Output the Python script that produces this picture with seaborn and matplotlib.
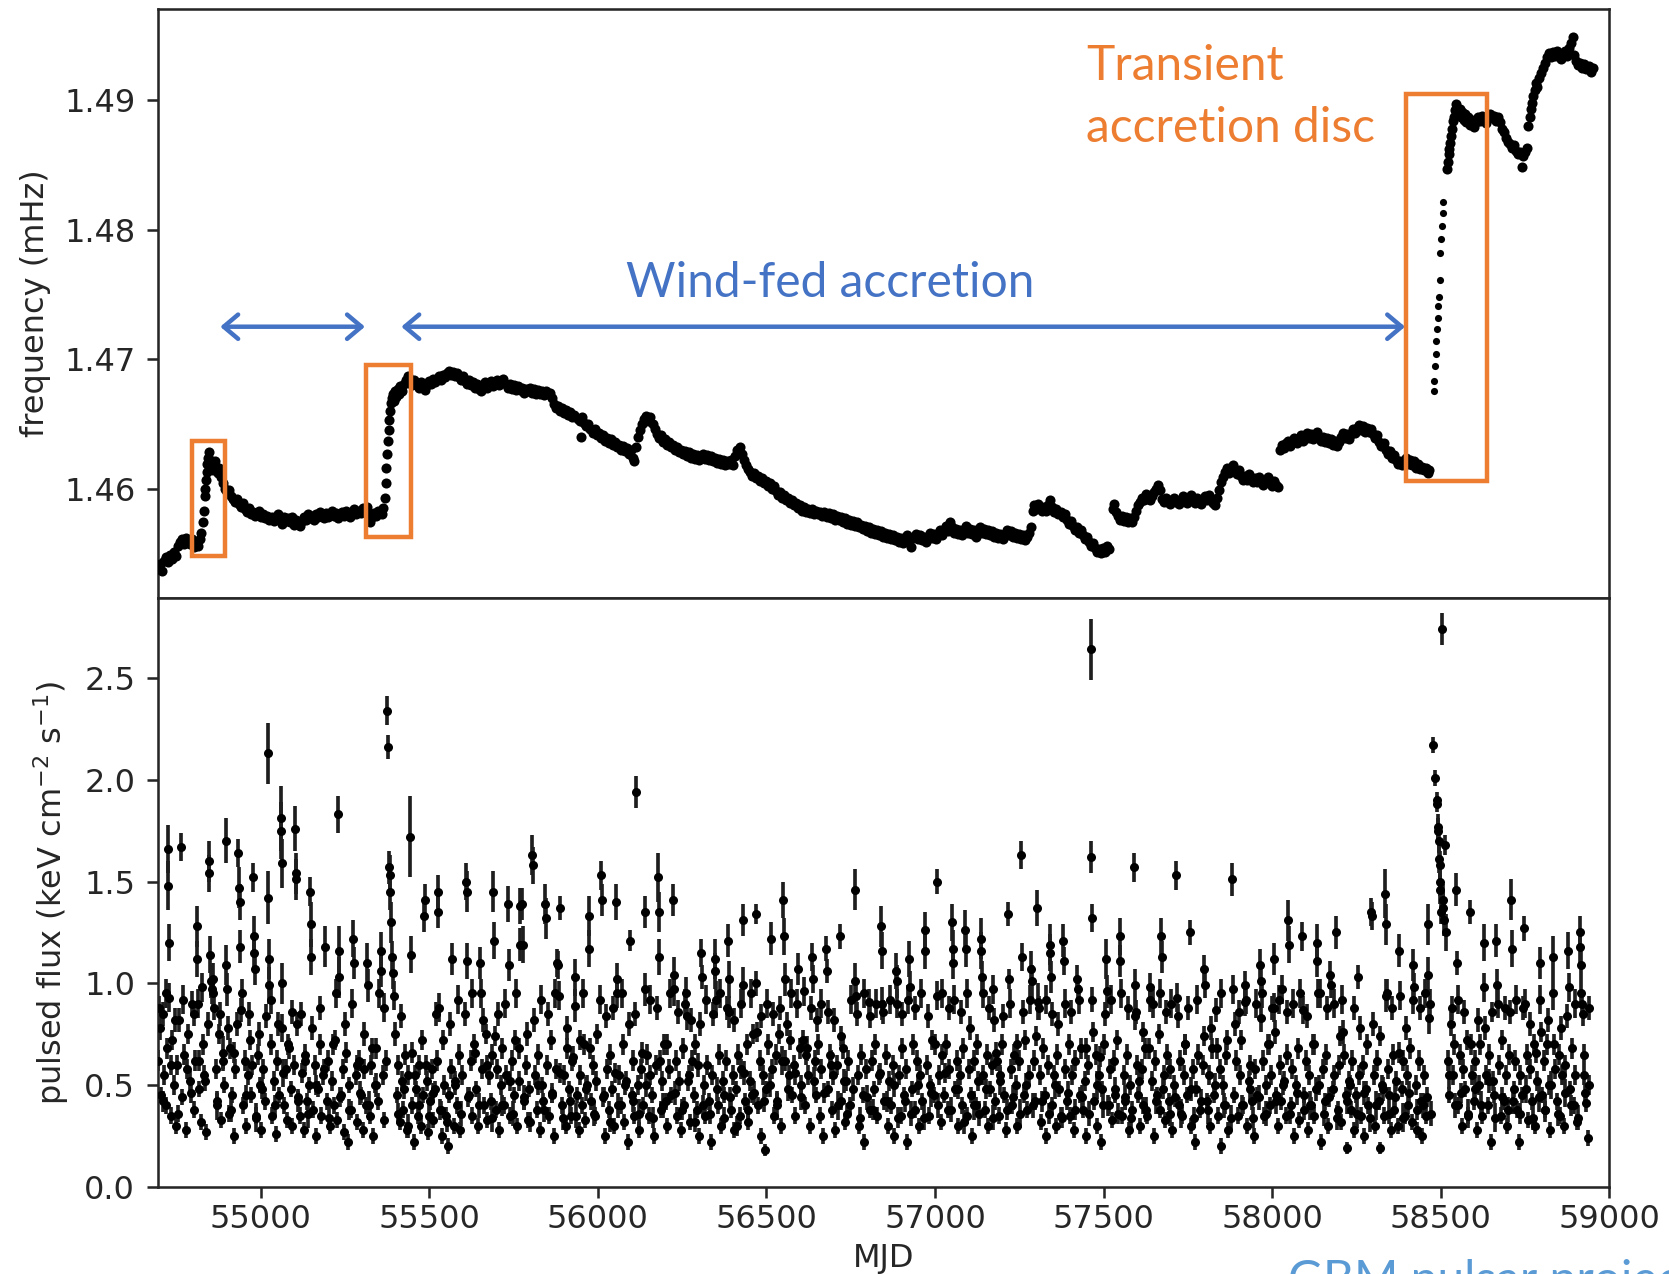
import matplotlib
matplotlib.use("Agg")
import matplotlib.pyplot as plt
from matplotlib.patches import Rectangle
from matplotlib.ticker import StrMethodFormatter
import numpy as np
import pandas as pd
import seaborn as sns

# ---------------- spin frequency (top panel) ----------------
FREQ_MJD = [
    [54694,54700,54706,54712,54718,54724,54730,54736,54742,54748,54754,54760,54766,54772,54778,54784,54790,54796,54802,54808,54814,54820],
    [54824,54828,54831,54834,54836,54838,54840,54842,54845,54848,54851,54854,54857,54860,54864,54868,54872,54876,54882,54888,54894,54900],
    [54906,54912,54918,54924,54930,54936,54942,54948,54954,54960,54966,54972,54978,54984,54990,54996,55002,55008,55014,55020,55026,55032],
    [55038,55044,55050,55056,55062,55068,55074,55080,55086,55092,55098,55104,55110,55116,55122,55128,55134,55140,55146,55152,55158,55164],
    [55170,55176,55182,55188,55194,55200,55206,55212,55218,55224,55230,55236,55242,55248,55254,55260,55266,55272,55278,55284,55290,55296],
    [55302,55308,55314,55320,55324,55330,55336,55342,55348,55354,55360,55364,55368,55371,55373,55375,55377,55379,55381,55383,55386,55389,55392],
    [55395,55398,55402,55406,55410,55414,55420,55426,55432,55438,55444,55450,55456,55462,55468,55474,55480,55486,55492,55498,55504,55510,55516,55522],
    [55528,55534,55540,55546,55552,55558,55564,55570,55576,55582,55588,55594,55600,55606,55612,55618,55624,55630,55636,55642,55648,55654],
    [55660,55666,55672,55678,55684,55690,55696,55702,55708,55714,55720,55726,55732,55738,55744,55750,55756,55762,55768,55774,55780,55786],
    [55792,55798,55804,55810,55816,55822,55828,55834,55840,55846,55852,55858,55864,55870,55876,55882,55888,55894,55900,55906,55912,55918],
    [55924,55930,55942,55948,55950,55954,55960,55966,55972,55978,55984,55990,55996,56002,56008,56014,56020,56026,56032,56038,56044,56050],
    [56056,56062,56068,56074,56080,56086,56092,56098,56104,56108,56114,56120,56126,56132,56138,56144,56150,56156,56162,56168],
    [56174,56180,56186,56192,56198,56204,56210,56216,56222,56228,56234,56240,56246,56252,56258,56264,56270,56276,56282,56288,56294,56300],
    [56306,56312,56318,56324,56330,56336,56342,56348,56354,56360,56366,56372,56378,56384,56390,56396,56402,56408,56414,56420,56426,56432],
    [56438,56444,56450,56456,56462,56468,56474,56480,56486,56492,56498,56504,56510,56516,56522,56528,56534,56540,56546,56552,56558,56564],
    [56570,56576,56582,56588,56594,56600,56606,56612,56618,56624,56630,56636,56642,56648,56654,56660,56666,56672,56678,56684,56690,56696],
    [56702,56708,56714,56720,56726,56732,56738,56744,56750,56756,56762,56768,56774,56780,56786,56792,56798,56804,56810,56816,56822,56828],
    [56834,56840,56846,56852,56858,56864,56870,56876,56882,56888,56894,56900,56906,56912,56918,56924,56930,56936,56942,56948,56954,56960],
    [56966,56972,56978,56984,56990,56996,57002,57008,57014,57020,57026,57032,57038,57044,57050,57056,57062,57068,57074,57080,57086,57092],
    [57098,57104,57110,57116,57122,57128,57134,57140,57146,57152,57158,57164,57170,57176,57182,57188,57194,57200,57206,57212,57218,57224],
    [57230,57236,57242,57248,57254,57260,57266,57272,57278,57284,57290,57294,57300,57306,57312,57318,57324,57330,57336,57342,57348,57354],
    [57360,57366,57372,57378,57384,57390,57396,57402,57408,57414,57420,57426,57432,57438,57444,57450,57456,57462,57468,57474,57480,57486],
    [57492,57498,57504,57510,57516,57528,57532,57536,57542,57548,57554,57560,57566,57572,57578,57584,57590,57596,57602,57608,57614,57620],
    [57626,57632,57638,57644,57650,57656,57662,57668,57674,57680,57686,57692,57698,57704,57710,57716,57722,57728,57734,57740,57746,57752],
    [57758,57764,57770,57776,57782,57788,57794,57800,57806,57812,57818,57824,57830,57836,57842,57848,57854,57860,57866,57872,57878,57884],
    [57890,57896,57902,57908,57914,57920,57926,57932,57938,57944,57950,57956,57962,57968,57974,57980,57986,57992,57998,58004,58010,58016],
    [58024,58030,58036,58042,58048,58054,58060,58066,58072,58078,58084,58090,58096,58102,58108,58114,58120,58126,58132,58138,58144,58150],
    [58156,58162,58168,58174,58180,58186,58192,58198,58204,58210,58216,58222,58228,58234,58240,58246,58252,58258,58264,58270,58276,58282],
    [58288,58294,58300,58306,58312,58318,58324,58330,58336,58342,58348,58354,58360,58366,58372,58378,58384,58390,58396,58402,58408,58414],
    [58420,58426,58432,58438,58444,58450,58456,58462,58466],
    [58479,58481,58483,58485,58487,58489,58491,58493,58495,58497,58499,58501,58503,58505,58507],
    [58519,58521,58523,58525,58527,58530,58533,58536,58539,58542,58545,58548,58552,58556,58560,58564,58568,58572,58576,58580,58586,58592,58598,58604,58610,58616,58622,58628,58634,58640,58646,58652],
    [58658,58664,58670,58676,58682,58688,58694,58700,58706,58712,58718,58724,58730,58736,58740,58744,58750,58756,58760,58763,58766,58770,58774,58778,58782,58786],
    [58790,58796,58802,58808,58814,58820,58826,58832,58838,58844,58850,58856,58862,58868,58874,58880,58886,58891,58896,58902,58908,58914,58920,58926,58932,58938,58944,58950],
]
FREQ_MHZ = [
    [1.4538,1.4542,1.4536,1.4544,1.4547,1.4543,1.4549,1.4546,1.4551,1.4548,1.4556,1.4559,1.4561,1.4557,1.4562,1.4560,1.4557,1.4561,1.4555,1.4558,1.4556,1.4561],
    [1.4566,1.4574,1.4583,1.4594,1.4600,1.4607,1.4613,1.4619,1.4624,1.4628,1.4622,1.4618,1.4614,1.4619,1.4621,1.4615,1.4612,1.4616,1.4609,1.4604,1.4600,1.4597],
    [1.4599,1.4594,1.4592,1.4590,1.4592,1.4588,1.4586,1.4589,1.4584,1.4582,1.4585,1.4580,1.4582,1.4579,1.4581,1.4583,1.4578,1.4580,1.4577,1.4579,1.4576,1.4578],
    [1.4575,1.4577,1.4580,1.4576,1.4573,1.4578,1.4575,1.4577,1.4574,1.4578,1.4572,1.4576,1.4574,1.4571,1.4575,1.4578,1.4576,1.4580,1.4577,1.4579,1.4576,1.4580],
    [1.4578,1.4582,1.4579,1.4577,1.4581,1.4578,1.4580,1.4583,1.4579,1.4581,1.4577,1.4580,1.4582,1.4579,1.4583,1.4580,1.4578,1.4582,1.4584,1.4580,1.4583,1.4581],
    [1.4585,1.4582,1.4586,1.4576,1.4574,1.4578,1.4581,1.4579,1.4583,1.4581,1.4580,1.4585,1.4593,1.4604,1.4616,1.4627,1.4637,1.4645,1.4653,1.4660,1.4666,1.4670,1.4673],
    [1.4668,1.4675,1.4671,1.4677,1.4673,1.4679,1.4675,1.4681,1.4684,1.4687,1.4683,1.4680,1.4684,1.4681,1.4678,1.4682,1.4679,1.4676,1.4680,1.4683,1.4681,1.4685,1.4682,1.4684],
    [1.4687,1.4684,1.4688,1.4686,1.4689,1.4691,1.4688,1.4690,1.4687,1.4689,1.4686,1.4684,1.4687,1.4683,1.4681,1.4684,1.4680,1.4682,1.4678,1.4681,1.4677,1.4675],
    [1.4679,1.4682,1.4678,1.4680,1.4683,1.4679,1.4681,1.4684,1.4680,1.4682,1.4685,1.4681,1.4678,1.4681,1.4677,1.4680,1.4676,1.4679,1.4676,1.4678,1.4674,1.4677],
    [1.4675,1.4678,1.4674,1.4677,1.4673,1.4676,1.4673,1.4675,1.4672,1.4675,1.4673,1.4674,1.4670,1.4665,1.4662,1.4664,1.4660,1.4662,1.4658,1.4661,1.4657,1.4659],
    [1.4655,1.4657,1.4654,1.4652,1.4640,1.4655,1.4651,1.4648,1.4650,1.4646,1.4643,1.4646,1.4641,1.4643,1.4639,1.4641,1.4637,1.4639,1.4635,1.4638,1.4634,1.4636],
    [1.4632,1.4634,1.4630,1.4633,1.4629,1.4631,1.4627,1.4630,1.4624,1.4621,1.4632,1.4640,1.4645,1.4650,1.4654,1.4656,1.4652,1.4655,1.4650,1.4646],
    [1.4642,1.4639,1.4641,1.4636,1.4638,1.4634,1.4636,1.4632,1.4634,1.4630,1.4632,1.4628,1.4630,1.4627,1.4629,1.4625,1.4628,1.4624,1.4627,1.4623,1.4626,1.4622],
    [1.4625,1.4627,1.4623,1.4626,1.4622,1.4625,1.4621,1.4624,1.4620,1.4623,1.4619,1.4622,1.4618,1.4621,1.4619,1.4622,1.4618,1.4625,1.4630,1.4632,1.4627,1.4622],
    [1.4618,1.4615,1.4613,1.4610,1.4612,1.4608,1.4610,1.4606,1.4608,1.4604,1.4606,1.4602,1.4604,1.4600,1.4602,1.4598,1.4595,1.4597,1.4593,1.4595,1.4591,1.4593],
    [1.4589,1.4591,1.4587,1.4589,1.4585,1.4587,1.4583,1.4586,1.4582,1.4584,1.4581,1.4584,1.4580,1.4583,1.4580,1.4582,1.4579,1.4582,1.4578,1.4581,1.4577,1.4580],
    [1.4576,1.4579,1.4576,1.4578,1.4574,1.4577,1.4573,1.4576,1.4572,1.4575,1.4571,1.4574,1.4570,1.4572,1.4569,1.4571,1.4567,1.4570,1.4566,1.4569,1.4565,1.4568],
    [1.4564,1.4567,1.4563,1.4566,1.4562,1.4565,1.4561,1.4564,1.4560,1.4563,1.4559,1.4562,1.4558,1.4561,1.4564,1.4560,1.4555,1.4562,1.4565,1.4561,1.4564,1.4560],
    [1.4563,1.4559,1.4562,1.4566,1.4562,1.4565,1.4561,1.4564,1.4568,1.4564,1.4567,1.4571,1.4567,1.4574,1.4570,1.4566,1.4569,1.4565,1.4568,1.4564,1.4567,1.4571],
    [1.4566,1.4569,1.4565,1.4568,1.4563,1.4566,1.4570,1.4566,1.4569,1.4565,1.4568,1.4564,1.4567,1.4563,1.4566,1.4562,1.4565,1.4561,1.4564,1.4568,1.4564,1.4567],
    [1.4563,1.4566,1.4562,1.4565,1.4561,1.4564,1.4560,1.4563,1.4566,1.4570,1.4583,1.4587,1.4584,1.4588,1.4585,1.4583,1.4586,1.4583,1.4587,1.4591,1.4586,1.4582],
    [1.4584,1.4580,1.4582,1.4578,1.4580,1.4576,1.4573,1.4575,1.4571,1.4568,1.4570,1.4566,1.4568,1.4564,1.4561,1.4563,1.4559,1.4556,1.4558,1.4554,1.4551,1.4553],
    [1.4550,1.4554,1.4551,1.4556,1.4553,1.4584,1.4588,1.4582,1.4579,1.4576,1.4579,1.4575,1.4578,1.4574,1.4577,1.4574,1.4578,1.4583,1.4587,1.4590,1.4593,1.4591],
    [1.4596,1.4594,1.4591,1.4594,1.4597,1.4600,1.4603,1.4599,1.4592,1.4590,1.4593,1.4590,1.4588,1.4591,1.4593,1.4590,1.4588,1.4591,1.4594,1.4591,1.4589,1.4592],
    [1.4595,1.4592,1.4589,1.4593,1.4590,1.4588,1.4591,1.4594,1.4591,1.4595,1.4592,1.4589,1.4587,1.4593,1.4599,1.4605,1.4609,1.4613,1.4616,1.4612,1.4615,1.4618],
    [1.4614,1.4611,1.4614,1.4610,1.4607,1.4610,1.4607,1.4611,1.4608,1.4605,1.4608,1.4605,1.4609,1.4606,1.4603,1.4606,1.4609,1.4605,1.4602,1.4606,1.4603,1.4601],
    [1.4630,1.4634,1.4631,1.4635,1.4637,1.4633,1.4636,1.4639,1.4635,1.4638,1.4641,1.4637,1.4640,1.4643,1.4639,1.4642,1.4638,1.4641,1.4644,1.4640,1.4637,1.4640],
    [1.4636,1.4639,1.4635,1.4638,1.4634,1.4637,1.4633,1.4636,1.4640,1.4643,1.4639,1.4642,1.4638,1.4642,1.4646,1.4643,1.4647,1.4649,1.4645,1.4648,1.4644,1.4647],
    [1.4644,1.4646,1.4642,1.4639,1.4641,1.4636,1.4633,1.4635,1.4630,1.4627,1.4629,1.4624,1.4626,1.4622,1.4619,1.4621,1.4618,1.4621,1.4624,1.4619,1.4622,1.4618],
    [1.4621,1.4616,1.4619,1.4615,1.4617,1.4614,1.4616,1.4612,1.4614],
    [1.4675,1.4683,1.4695,1.4704,1.4714,1.4723,1.4732,1.4741,1.4748,1.4761,1.4782,1.4793,1.4803,1.4813,1.4821],
    [1.4847,1.4852,1.4858,1.4862,1.4867,1.4872,1.4878,1.4884,1.4887,1.4892,1.4897,1.4893,1.4889,1.4893,1.4887,1.4891,1.4885,1.4889,1.4883,1.4887,1.4881,1.4885,1.4879,1.4883,1.4887,1.4884,1.4888,1.4885,1.4882,1.4886,1.4889,1.4886],
    [1.4888,1.4884,1.4887,1.4883,1.4878,1.4875,1.4871,1.4868,1.4866,1.4863,1.4865,1.4861,1.4858,1.4860,1.4848,1.4857,1.4860,1.4863,1.4880,1.4887,1.4893,1.4898,1.4903,1.4908,1.4913,1.4910],
    [1.4917,1.4921,1.4925,1.4929,1.4933,1.4936,1.4933,1.4937,1.4934,1.4938,1.4935,1.4932,1.4936,1.4938,1.4934,1.4940,1.4944,1.4949,1.4935,1.4930,1.4927,1.4929,1.4925,1.4928,1.4924,1.4926,1.4922,1.4925],
]
SPARSE_FREQ_SEGMENT = 30   # the well separated dots of the 2019 spin-up

# ---------------- pulsed flux (bottom panel) ----------------
FLUX_MJD = [
    [54695,54700,54704,54709,54713,54718,54722,54724,54726,54727,54729,54733,54738,54743,54748,54753,54758,54764,54766,54772,54778,54784,54790,54796,54801,54806,54811,54812,54813,54818,54823,54828,54833,54838,54843],
    [54846,54848,54851,54853,54855,54858,54862,54866,54871,54876,54881,54887,54892,54896,54898,54900,54905,54910,54915,54920,54925,54930,54934,54936,54938,54940,54942,54947,54952,54957,54962,54967,54972,54977,54979,54980,54982,54987,54992,54997],
    [55002,55008,55014,55021,55022,55024,55025,55029,55034,55039,55044,55049,55054,55059,55060,55062,55063,55064,55069,55074,55079,55084,55089,55094,55099,55103,55104,55106,55107,55112,55117,55122,55127,55132,55137,55142,55147,55148,55150,55155,55160,55165,55170,55175,55180,55185,55191,55196],
    [55201,55206,55211,55216,55221,55226,55230,55231,55233,55238,55243,55248,55253,55258,55263,55268,55275,55277,55282,55287,55292,55297,55302,55307,55312,55316,55318,55323,55328,55333,55338,55343,55348,55356,55358,55362,55367,55371,55375,55377,55380,55382,55384,55387,55390,55394,55398],
    [55403,55408,55413,55418,55423,55428,55433,55438,55444,55445,55450,55455,55460,55465,55470,55475,55480,55485,55487,55492,55497,55502,55507,55512,55517,55522,55525,55527,55529,55534,55539,55544,55549,55554,55559,55564,55566,55572,55577,55582,55587,55592,55597],
    [55609,55611,55613,55618,55623,55628,55633,55638,55643,55650,55652,55657,55662,55667,55672,55677,55682,55687,55690,55692,55697,55702,55707,55712,55717,55722,55727,55733,55735,55740,55745,55750,55755,55760,55765,55769,55770,55775,55777,55782,55787,55792,55797],
    [55806,55808,55813,55818,55823,55828,55833,55838,55843,55845,55850,55855,55860,55865,55870,55875,55879,55881,55884,55889,55894,55899,55904,55909,55914,55919,55924,55931,55933,55938,55943,55948,55953,55958,55963,55968,55973,55975,55980,55985,55990,55995],
    [56010,56012,56017,56022,56027,56032,56037,56042,56047,56055,56057,56058,56063,56068,56073,56078,56083,56088,56095,56100,56105,56108,56113,56118,56123,56128,56133,56139,56141,56146,56151,56156,56161,56166,56171,56178,56180,56181,56186,56191,56196],
    [56201,56206,56211,56216,56223,56225,56226,56231,56236,56241,56246,56251,56256,56262,56264,56269,56274,56279,56284,56289,56294,56299,56307,56309,56314,56319,56324,56329,56334,56339,56346,56348,56350,56355,56360,56365,56370,56375,56380,56386,56388,56390,56395],
    [56400,56405,56410,56415,56420,56425,56429,56431,56436,56441,56446,56451,56456,56461,56468,56470,56475,56480,56485,56490,56495,56500,56505,56512,56517,56522,56527,56532,56537,56542,56549,56551,56556,56561,56566,56571,56576,56581,56586,56594,56598],
    [56603,56608,56613,56618,56623,56628,56636,56638,56643,56648,56653,56658,56663,56668,56676,56678,56683,56688,56693,56698,56703,56708,56717,56722,56727,56732,56737,56742,56747,56762,56764,56765,56770,56775,56780,56785,56790,56795],
    [56803,56808,56813,56818,56823,56828,56833,56841,56843,56844,56849,56854,56859,56864,56869,56874,56879,56885,56887,56888,56893,56898,56903,56908,56913,56918,56924,56926,56931,56936,56941,56946,56951,56956,56961,56969,56971,56976,56981,56986,56991,56996],
    [57005,57007,57012,57017,57022,57027,57032,57037,57042,57051,57053,57054,57059,57064,57069,57074,57079,57084,57089,57091,57096,57101,57106,57111,57116,57121,57126,57135,57137,57138,57143,57148,57153,57158,57163,57168,57172,57174,57179,57184,57189,57194],
    [57199,57204,57209,57217,57219,57224,57229,57234,57239,57244,57249,57256,57258,57263,57268,57273,57278,57285,57287,57292,57297,57303,57305,57310,57315,57320,57325,57330,57335,57340,57342,57343,57348,57353,57358,57363,57368,57373,57379,57381,57386,57391,57396],
    [57401,57406,57411,57416,57422,57424,57429,57434,57439,57444,57449,57454,57462,57463,57465,57466,57471,57476,57481,57486,57491,57496,57501,57508,57510,57515,57520,57525,57530,57535,57540,57547,57549,57554,57559,57564,57569,57574,57579,57584,57590,57592,57593,57598],
    [57603,57608,57613,57618,57623,57628,57636,57638,57643,57648,57653,57658,57663,57668,57671,57673,57678,57683,57688,57693,57698,57703,57708,57715,57717,57722,57727,57732,57737,57742,57747,57755,57760,57765,57770,57775,57780,57785,57795],
    [57799,57801,57806,57811,57816,57821,57826,57834,57839,57844,57849,57854,57859,57864,57869,57881,57883,57888,57893,57898,57903,57908,57913,57918,57920,57925,57930,57935,57940,57945,57950,57955,57964,57966,57967,57972,57977,57982,57987,57992,57997],
    [58004,58006,58007,58012,58017,58022,58027,58030,58035,58040,58045,58048,58050,58055,58060,58065,58070,58075,58080,58088,58090,58095,58100,58105,58110,58115,58120,58125,58132,58134,58135,58140,58145,58150,58155,58160,58165,58172,58174,58179,58184,58189,58194],
    [58199,58204,58211,58213,58218,58223,58228,58233,58238,58243,58248,58253,58258,58263,58268,58273,58278,58283,58294,58296,58301,58306,58311,58316,58321,58326,58331,58334,58336,58337,58342,58347,58352,58357,58362,58367,58372,58377,58379,58384,58389,58394],
    [58399,58404,58409,58414,58418,58420,58425,58430,58435,58440,58445,58450,58455,58461,58463,58465,58478,58484,58488,58490,58492,58493,58494,58496,58497,58498,58499,58500,58503,58505,58507,58509,58513,58520,58525,58530,58535,58540,58545,58547,58552,58557,58562,58567,58572,58577,58582,58587,58592,58597],
    [58602,58607,58612,58617,58622,58627,58629,58634,58639,58644,58649,58654,58659,58665,58667,58672,58677,58682,58687,58692,58697,58702,58709,58711,58716,58721,58726,58731,58736,58741,58748,58750,58755,58760,58765,58770,58775,58780,58785,58793,58795],
    [58800,58805,58810,58815,58820,58825,58832,58834,58839,58844,58849,58854,58859,58864,58869,58877,58879,58884,58889,58894,58899,58904,58912,58914,58915,58920,58922,58924,58926,58930,58935,58940],
    # interleaved measurements of the dense 0.3-1.0 band
    [54697,54711,54720,54735,54745,54755,54769,54781,54793,54803,54816,54826,54836,54857,54869,54879,54889],
    [54902,54912,54922,54944,54955,54964,54975,54985,54995,55005,55017,55031,55041,55052,55067,55081,55092],
    [55110,55120,55130,55140,55153,55163,55177,55188,55203,55214,55224,55236,55251,55261,55272,55285,55295],
    [55305,55321,55331,55341,55351,55365,55392,55406,55416,55426,55436,55448,55458,55468,55478,55490,55500],
    [55510,55520,55532,55542,55552,55562,55575,55585,55595,55606,55616,55626,55636,55646,55660,55670,55685,55695],
    [55705,55715,55725,55738,55748,55758,55767,55780,55790,55800,55811,55821,55831,55841,55853,55863,55873,55887,55897],
    [55907,55917,55927,55936,55946,55956,55966,55978,55988,55998,56005,56015,56025,56035,56045,56052,56061,56071,56081,56091],
    [56103,56111,56121,56131,56144,56154,56164,56174,56184,56194,56204,56214,56229,56239,56249,56259,56267,56277,56287,56297],
    [56302,56312,56322,56332,56342,56353,56363,56373,56383,56393,56403,56413,56423,56434,56444,56454,56464,56473,56483,56493],
    [56503,56510,56520,56530,56540,56547,56554,56564,56574,56584,56591,56601,56611,56621,56631,56641,56651,56661,56671,56681,56691],
    [56701,56711,56720,56730,56740,56750,56756,56768,56778,56788,56798,56806,56816,56826,56836,56847,56857,56867,56877,56891],
    [56901,56911,56921,56929,56939,56949,56959,56966,56979,56989,56999,57010,57020,57030,57040,57047,57057,57067,57077,57087,57094],
    [57104,57114,57124,57131,57141,57151,57161,57171,57182,57192,57202,57212,57222,57232,57242,57252,57261,57271,57281,57290,57300],
    [57308,57318,57328,57338,57346,57356,57366,57376,57384,57394,57404,57414,57427,57437,57447,57457,57469,57479,57489,57499],
    [57505,57513,57523,57533,57543,57552,57562,57572,57582,57596,57606,57616,57626,57633,57646,57656,57666,57676,57686,57696],
    [57701,57711,57720,57730,57740,57750,57758,57768,57778,57788,57798,57809,57819,57829,57837,57847,57857,57867,57877,57891],
    [57901,57911,57923,57933,57943,57953,57960,57970,57980,57990,58000,58010,58020,58033,58043,58053,58063,58073,58083,58093],
    [58103,58113,58123,58130,58143,58153,58163,58168,58182,58192,58202,58208,58221,58231,58241,58251,58261,58271,58281,58289],
    [58299,58309,58319,58329,58339,58345,58355,58365,58375,58387,58397,58407,58417,58428,58438,58448,58453,58458,58468,58472],
    [58515,58523,58533,58543,58550,58560,58570,58580,58590,58600,58610,58620,58632,58642,58652,58662,58670,58680,58690,58700],
    [58705,58714,58724,58734,58744,58753,58763,58773,58783,58790,58798,58808,58818,58828,58837,58847,58857,58867,58874,58887,58897,58907,58917,58928,58938],
]
FLUX = [
    [.62,.78,.45,.85,.55,.40,.68,1.66,1.48,1.20,.93,.35,.72,.50,.30,.60,.82,1.67,.44,.65,.28,.75,.52,.90,.38,.62,1.28,1.12,.90,.48,.32,.70,.55,.27,.80],
    [1.60,1.54,1.14,1.01,.97,.95,.88,.58,.42,.75,.33,.62,.50,1.70,1.09,.97,.36,.68,.45,.25,.58,.80,1.64,1.47,1.40,1.18,.87,.40,.62,.30,.55,.72,.45,1.52,1.23,1.15,1.07,.35,.65,.50],
    [.28,.58,.42,2.13,1.42,1.12,.99,.70,.35,.52,.26,.62,.45,1.81,1.75,1.59,1.00,.78,.40,.58,.33,.68,.48,.30,.60,1.76,1.54,1.51,.80,.44,.35,.56,.28,.65,.42,.50,1.45,1.29,1.13,.38,.60,.25,.48,.70,.35,.55,1.18,.42],
    [.62,.30,.52,.40,.72,.33,1.83,1.16,1.03,.45,.58,.27,.66,.22,.50,.38,1.22,1.10,.55,.32,.62,.45,.28,.58,.40,1.10,.99,.35,.60,.25,.50,.68,.42,1.16,1.06,.55,.33,.62,2.34,2.16,1.57,1.53,1.45,1.30,1.13,.94,.75],
    [.45,.60,.32,.52,.38,.65,.28,.55,1.72,1.14,.40,.22,.48,.35,.60,.30,.45,1.33,1.41,.52,.27,.42,.58,.33,.48,.62,1.45,1.35,.88,.38,.25,.50,.35,.20,.45,.58,1.12,.30,.52,.40,.65,.28,.55],
    [1.50,1.45,1.11,.45,.62,.35,.70,.48,.30,1.10,.95,.58,.40,.75,.33,.55,.42,.65,1.45,1.21,.38,.58,.28,.50,.68,.40,.55,1.39,1.09,.35,.62,.45,.72,.30,.52,1.38,1.19,1.39,1.19,.42,.60,.33,.48],
    [1.63,1.58,.55,.38,.65,.28,.50,.42,1.39,1.32,.60,.35,.72,.45,.25,.58,1.10,1.09,.94,1.37,.40,.55,.30,.68,.48,.35,.62,1.03,.89,.45,.28,.55,.40,.70,.33,.50,1.33,1.17,.42,.60,.35,.52],
    [1.53,1.41,.45,.25,.58,.38,.65,.48,.30,1.40,1.02,.95,.55,.40,.70,.32,.52,.22,1.21,.45,.62,.35,1.94,.50,.28,.58,.40,1.35,.97,.65,.35,.55,.45,.25,.60,1.52,1.35,1.13,.38,.52,.70],
    [.42,.30,.58,.45,1.41,1.04,.97,.62,.35,.52,.28,.68,.40,.95,.84,.55,.32,.62,.45,.70,.38,.25,1.15,1.03,.50,.35,.60,.42,.22,.55,1.12,1.06,.92,.40,.65,.30,.52,.45,.62,1.21,1.02,.86,.38],
    [.55,.28,.48,.65,.35,.58,1.31,.99,.42,.70,.32,.52,.45,.75,1.34,1.00,.40,.62,.25,.55,.18,.48,.70,1.22,.58,.35,.65,.42,.75,.30,1.41,1.23,.62,.80,.55,.72,.45,.60,.35,1.07,.68],
    [.50,.72,.40,.65,.55,.30,1.13,1.02,.62,.45,.70,.35,.58,.25,1.17,1.06,.48,.65,.38,.55,.28,.60,1.23,.42,.68,.32,.52,.62,.40,1.46,1.01,.94,.55,.30,.65,.45,.22,.58],
    [.91,.38,.62,.48,.70,.35,.55,1.28,1.16,.90,.42,.65,.30,.52,.40,.60,.25,1.06,1.01,.90,.55,.35,.68,.45,.58,.22,1.12,.98,.48,.70,.38,.62,.30,.55,.42,1.26,1.16,.60,.35,.50,.72,.45],
    [1.50,.94,.55,.32,.65,.45,.70,.38,.58,1.30,1.17,1.10,.48,.62,.30,.55,.40,.68,1.26,1.17,.35,.58,.45,.25,.62,.40,.52,1.22,1.16,1.03,.55,.38,.65,.30,.48,.60,.97,.82,.42,.62,.35,.55],
    [.70,.45,.28,1.34,1.02,.58,.40,.65,.50,.30,.62,1.63,1.13,.45,.72,.38,.55,1.07,1.01,.62,.42,1.37,.91,.55,.32,.68,.45,.25,.60,1.19,1.15,1.03,.40,.55,.30,.65,.48,.35,1.21,1.11,.58,.42,.70],
    [.35,.55,.28,.62,1.02,.97,.45,.68,.38,.52,.25,.60,2.64,1.62,1.32,.92,.42,.65,.30,.55,.22,.48,.70,1.12,.96,.40,.58,.33,.62,.45,.72,1.23,1.11,.35,.55,.42,.65,.28,.50,.38,1.57,.99,.84,.60],
    [.45,.30,.58,.40,.68,.35,.98,.92,.52,.25,.62,.45,.75,.38,1.23,1.13,.55,.33,.65,.42,.58,.28,.50,1.53,.93,.40,.62,.35,.55,.70,.45,1.25,.30,.58,.22,.48,.65,.38,.60],
    [1.07,.99,.42,.55,.30,.68,.45,.87,.35,.58,.20,.50,.40,.65,.28,1.51,.97,.45,.62,.35,.55,.72,.40,.99,.91,.30,.52,.60,.42,.25,.58,.45,1.09,1.01,.83,.62,.35,.50,.70,.40,.55],
    [1.12,.88,.76,.45,.30,.60,.42,.97,.52,.35,.65,1.31,1.19,.40,.58,.25,.50,.68,.33,1.23,.87,.45,.62,.28,.55,.40,.70,.35,1.20,1.11,.95,.50,.22,.58,.42,.65,.30,1.04,.99,.48,.55,1.25,.38],
    [.60,.32,.76,.65,.45,.19,.52,.38,.62,.28,.45,1.03,.55,.35,.60,.25,.48,.40,1.35,1.33,.55,.30,.62,.42,.19,.50,.35,1.44,1.29,.94,.58,.45,.28,.65,.38,.52,.30,1.16,.94,.48,.62,.35],
    [.55,.40,.68,.32,1.09,.98,.50,.28,.62,.42,.25,.55,.35,1.29,1.04,.83,2.17,2.01,1.90,1.88,1.77,1.75,1.70,1.61,1.58,1.50,1.46,1.35,2.74,1.41,1.37,1.31,1.68,.62,.45,.80,.55,.70,1.46,1.10,.40,.65,.30,.58,.48,.72,.35,1.35,.55,.42],
    [.62,.28,.50,.70,.35,1.20,.98,.55,.40,.65,.22,.52,.45,1.21,.99,.60,.35,.72,.42,.55,.30,.65,1.41,1.17,.48,.62,.38,.22,.55,.45,1.27,.90,.65,.33,.58,.42,.70,.30,.52,1.10,.92],
    [.45,.62,.38,.70,.50,.28,1.13,.95,.58,.42,.65,.35,.55,.30,.60,1.16,.98,.48,.68,.40,.55,.32,1.25,1.18,1.09,.90,.85,.65,.55,.41,.24,.50],
    [.88,.42,.95,.60,.82,.36,.92,.58,.46,.85,.62,.98,.52,1.02,.40,.85,.66],
    [.78,.38,.66,.95,.45,.85,.60,.34,.75,.48,.84,.92,.40,.80,.56,.70,.86],
    [.42,.85,.62,.36,.78,.50,.88,.58,.34,.70,.95,.44,.80,.38,.90,.60,.46],
    [.75,.40,.68,.50,.95,.88,1.05,.36,.84,.48,.30,.66,.55,.40,.72,.60,.35],
    [.46,.85,.38,.72,.32,.80,.50,.92,.36,.85,.44,.95,.66,.40,.82,.60,.34,.74],
    [.85,.40,.90,.52,.36,.95,.68,.44,.75,.32,.82,.50,.92,.38,.85,.46,.95,.56,.34],
    [.78,.42,.64,.35,.72,.95,.48,.68,.36,.75,.92,.44,.84,.32,.88,.56,.40,.95,.50,.80],
    [.42,.85,.36,.66,.50,.92,.34,.88,.62,.40,.70,.95,.46,.86,.38,.90,.52,.82,.32,.60],
    [.80,.40,.92,.36,.85,.48,.95,.34,.88,.44,.82,.30,.90,.56,.38,.95,.46,.76,.84,.42],
    [.90,.50,.85,.40,.88,.62,1.02,.48,.95,.56,.90,.44,.96,.68,.88,.52,.82,.90,.46,.86,.60],
    [.82,.40,.74,.52,.36,.92,.48,.85,.34,.95,.44,.84,.38,.90,.56,.86,.42,.92,.50,.34],
    [.85,.42,.92,.36,.88,.50,.95,.34,.84,.46,.70,.40,.95,.56,.88,.38,.92,.48,.86,.32,.95],
    [.78,.40,.70,.36,.95,.48,.88,.34,.66,.52,.84,.38,.90,.44,.70,.36,.86,.50,.92,.40,.74],
    [.88,.42,.92,.36,.85,.50,.80,.34,.90,.46,.86,.38,.92,.44,.68,.36,.76,.50,.64,.40],
    [.85,.40,.92,.48,.36,.95,.44,.88,.34,.86,.52,.76,.38,.68,.90,.42,.95,.48,.86,.36],
    [.90,.44,.84,.36,.70,.88,.48,.34,.92,.42,.74,.38,.78,.50,.68,.95,.40,.72,.34,.80],
    [.86,.40,.92,.48,.34,.90,.44,.95,.36,.70,.88,.42,.92,.50,.86,.36,.90,.46,.95,.38],
    [.84,.40,.70,.48,.95,.36,.88,.44,.90,.34,.74,.92,.42,.50,.88,.36,.78,.46,.70,.34],
    [.80,.40,.74,.48,.95,.36,.88,.44,.66,.34,.78,.46,.92,.38,.88,.40,.95,.44,.90,.36],
    [1.25,.55,.88,.40,.92,.46,.86,.36,.70,.48,.82,.40,.78,.52,.86,.34,.90,.44,.88,.38],
    [.86,.42,.92,.36,.88,.48,.80,.34,.66,.44,.76,.38,.82,.50,.70,.36,.78,.46,.84,.40,.90,.34,.95,.46,.88],
]
# 1-sigma errors, in units of 0.01
FLUX_ERR_CENTI = [
    [5,6,4,6,5,4,5,12,12,9,7,4,5,5,4,5,6,7,4,5,4,5,5,6,4,5,10,9,7,4,4,5,5,4,6],
    [10,9,9,8,7,6,6,5,4,5,4,5,4,11,10,8,4,5,4,4,5,6,7,10,9,8,6,4,5,4,5,5,4,7,10,9,8,4,5,4],
    [4,5,4,15,13,10,9,5,4,5,4,5,4,16,14,12,10,7,4,5,4,5,4,4,5,11,10,10,6,4,4,5,4,5,4,4,7,11,9,4,5,4,4,5,4,5,10,4],
    [5,4,5,4,5,4,9,12,10,4,5,4,5,4,4,4,9,8,5,4,5,4,4,5,4,10,8,4,5,4,4,5,4,9,8,5,4,5,7,6,8,10,9,10,8,7,6],
    [4,5,4,5,4,5,4,5,20,9,4,4,4,4,5,4,4,8,8,5,4,4,5,4,4,5,8,8,7,4,4,5,4,4,4,5,8,4,5,4,5,4,5],
    [9,10,9,4,5,4,5,4,4,8,7,5,4,5,4,5,4,5,10,9,4,5,4,5,5,4,5,9,8,4,5,4,5,4,5,9,8,8,9,4,5,4,4],
    [10,9,5,4,5,4,4,4,10,10,5,4,5,4,4,5,7,7,7,6,4,5,4,5,4,4,5,9,8,4,4,5,4,5,4,5,10,9,4,5,4,5],
    [7,8,4,4,5,4,5,4,4,9,8,7,5,4,5,4,5,4,5,4,5,4,8,5,4,5,4,8,8,5,4,5,4,4,5,12,10,9,4,5,5],
    [4,4,5,4,8,9,8,5,4,5,4,5,4,8,7,5,4,5,4,5,4,4,7,6,5,4,5,4,4,5,10,9,9,4,5,4,5,4,5,8,9,8,4],
    [5,4,4,5,4,5,8,9,4,5,4,5,4,5,5,6,4,5,4,5,3,4,5,8,5,4,5,4,5,4,9,9,5,6,5,5,4,5,4,8,5],
    [5,5,4,5,5,4,7,7,5,4,5,4,5,4,6,6,4,5,4,5,4,5,6,4,5,4,5,5,4,10,9,8,5,4,5,4,4,5],
    [6,4,5,4,5,4,5,10,9,8,4,5,4,5,4,5,4,9,8,7,5,4,5,4,5,4,9,8,4,5,4,5,4,5,4,9,9,5,4,5,5,4],
    [6,7,5,4,5,4,5,4,5,9,9,8,4,5,4,5,4,5,10,9,4,5,4,4,5,4,5,10,9,8,5,4,5,4,4,5,7,6,4,5,4,5],
    [5,4,4,6,5,5,4,5,5,4,5,7,7,4,5,4,5,9,8,5,4,9,9,5,4,5,4,4,5,10,9,8,4,5,4,5,4,4,8,7,5,4,5],
    [4,5,4,5,7,6,4,5,4,5,4,5,15,8,7,6,4,5,4,5,4,4,5,10,8,4,5,4,5,4,5,9,8,4,5,4,5,4,5,4,7,8,7,5],
    [4,4,5,4,5,4,7,6,5,4,5,4,5,4,9,8,5,4,5,4,5,4,5,7,7,4,5,4,5,5,4,6,4,5,4,4,5,4,5],
    [7,6,4,5,4,5,4,6,4,5,4,5,4,5,4,8,7,4,5,4,5,5,4,7,7,4,5,5,4,4,5,4,8,8,7,5,4,5,5,4,5],
    [8,7,6,4,4,5,4,7,5,4,5,10,9,4,5,4,5,5,4,7,7,4,5,4,5,4,5,4,9,8,7,5,4,5,4,5,4,7,6,4,5,8,4],
    [5,4,6,5,4,3,5,4,5,4,4,6,5,4,5,4,4,4,7,7,5,4,5,4,3,5,4,12,10,8,5,4,4,5,4,5,4,8,7,4,5,4],
    [5,4,5,4,8,7,5,4,5,4,4,5,4,10,9,8,4,4,4,4,6,6,6,7,7,7,7,6,8,8,8,8,5,5,4,6,5,5,8,6,4,5,4,5,4,5,4,6,5,4],
    [5,4,5,5,4,9,7,5,4,5,4,5,4,8,8,5,4,5,4,5,4,5,10,9,4,5,4,4,5,4,6,7,5,4,5,4,5,4,5,8,7],
    [4,5,4,5,5,4,10,8,5,4,5,4,5,4,5,9,7,4,5,4,5,4,8,8,7,6,6,5,5,4,4,5],
    [6,5,7,5,6,4,7,5,5,6,5,7,5,8,7,6,8],
    [6,6,5,7,5,6,5,7,6,5,6,7,5,6,7,5,6],
    [5,6,5,7,6,5,6,5,6,5,7,5,6,5,7,5,6],
    [6,7,5,6,7,7,8,5,6,5,6,5,5,6,5,5,6],
    [5,6,5,5,5,6,5,7,6,6,5,7,5,6,6,5,7,5],
    [6,5,7,5,6,7,5,6,6,5,6,5,7,6,6,5,7,5,6],
    [6,7,5,6,5,7,6,5,6,5,7,5,6,5,6,5,6,7,5,6],
    [5,6,7,5,6,7,5,6,5,6,5,7,6,6,5,7,5,6,5,6],
    [6,5,7,5,6,6,7,5,6,5,6,5,7,6,5,7,6,5,6,5],
    [7,6,6,7,6,7,8,6,7,6,7,6,7,6,6,7,6,7,5,6,7],
    [6,7,5,6,5,7,6,6,5,7,6,6,5,7,5,6,5,7,6,5],
    [6,5,7,6,6,5,7,6,6,7,5,6,7,5,6,6,7,5,6,6,7],
    [6,7,5,6,7,5,6,6,5,7,6,5,7,6,5,7,6,6,7,6,5],
    [6,5,7,5,6,7,6,5,7,6,6,5,7,6,5,6,5,7,5,6],
    [6,5,7,6,5,7,6,6,5,6,7,5,6,5,7,6,7,5,6,6],
    [7,5,6,7,5,6,6,5,7,6,5,7,6,6,5,7,6,5,6,6],
    [6,5,7,6,5,7,6,7,6,5,6,6,7,5,6,5,7,6,7,5],
    [6,7,5,6,7,6,6,5,7,6,5,7,6,5,6,7,6,6,5,7],
    [6,7,5,6,7,5,6,6,5,7,6,6,7,5,6,6,7,5,7,6],
    [9,7,6,6,7,5,6,7,5,6,6,7,6,6,5,7,7,5,6,6],
    [6,6,7,5,6,7,6,6,5,7,5,6,6,7,5,6,6,7,6,5,7,6,7,5,6],
]

X_TICKS = [55000, 55500, 56000, 56500, 57000, 57500, 58000, 58500, 59000]
FREQ_TICKS = [1.46, 1.47, 1.48, 1.49]
FLUX_TICKS = [0.0, 0.5, 1.0, 1.5, 2.0, 2.5]

# annotation geometry (data coordinates of the top panel)
BOXES = [(54795, 54893, 1.45483, 1.46371),
         (55313, 55445, 1.45623, 1.46954),
         (58397, 58637, 1.46058, 1.49049)]
ARROWS = [(54880, 55309, 1.4725), (55417, 58394, 1.4725)]


def flatten(name, *segs):
    out = [[] for _ in segs]
    seg_id = []
    for i, parts in enumerate(zip(*segs)):
        n = {len(p) for p in parts}
        if len(n) != 1:
            raise ValueError(f"{name}: segment {i} lengths {[len(p) for p in parts]}")
        for k, p in enumerate(parts):
            out[k].extend(p)
        seg_id.extend([i] * len(parts[0]))
    return out, seg_id


(f_mjd, f_val), f_seg = flatten("freq", FREQ_MJD, FREQ_MHZ)
(p_mjd, p_val, p_err), _ = flatten("flux", FLUX_MJD, FLUX, FLUX_ERR_CENTI)
freq_df = pd.DataFrame({"MJD": f_mjd, "freq": f_val, "seg": f_seg})
flux_df = pd.DataFrame({"MJD": p_mjd, "flux": p_val, "err": np.array(p_err) / 100.0})
dense = freq_df[freq_df["seg"] != SPARSE_FREQ_SEGMENT]
sparse = freq_df[freq_df["seg"] == SPARSE_FREQ_SEGMENT]

sns.set_theme(style="ticks", rc={
    "font.size": 10, "axes.labelsize": 10, "xtick.labelsize": 10, "ytick.labelsize": 10,
    "axes.edgecolor": "0.15", "axes.linewidth": 0.8,
    "xtick.major.size": 3.5, "ytick.major.size": 3.5,
    "xtick.major.width": 0.8, "ytick.major.width": 0.8,
    "xtick.major.pad": 2.0,
    "xtick.color": "0.15", "ytick.color": "0.15",
    "axes.labelcolor": "0.15",
})
plt.rcParams["font.family"] = ["DejaVu Sans"]

DPI = 230
fig = plt.figure(figsize=(1669 / DPI, 1274 / DPI), dpi=DPI)
L, R = 0.0944, 0.9643
B, M, T = 0.0684, 0.5305, 0.9933
ax1 = fig.add_axes([L, M, R - L, T - M])
ax2 = fig.add_axes([L, B, R - L, M - B])

# top: frequency
sns.scatterplot(data=dense, x="MJD", y="freq", ax=ax1, color="black",
                s=10, linewidth=0, legend=False, zorder=3)
sns.scatterplot(data=sparse, x="MJD", y="freq", ax=ax1, color="black",
                s=5, linewidth=0, legend=False, zorder=3)
ax1.set_xlim(54694, 59000)
ax1.set_ylim(1.45154, 1.49707)
ax1.set_xticks(X_TICKS)
ax1.tick_params(axis="x", bottom=False, labelbottom=False)
ax1.set_yticks(FREQ_TICKS)
ax1.yaxis.set_major_formatter(StrMethodFormatter("{x:.2f}"))
ax1.set_xlabel("")
ax1.set_ylabel("frequency (mHz)")

# bottom: pulsed flux with error bars
ax2.errorbar(flux_df["MJD"], flux_df["flux"], yerr=flux_df["err"], fmt="none",
             ecolor="#1e1e1e", elinewidth=1.15, capsize=0, zorder=2)
sns.scatterplot(data=flux_df, x="MJD", y="flux", ax=ax2, color="black",
                s=8, linewidth=0, legend=False, zorder=3)
ax2.set_xlim(54694, 59000)
ax2.set_ylim(0, 2.892)
ax2.set_xticks(X_TICKS)
ax2.set_yticks(FLUX_TICKS)
ax2.yaxis.set_major_formatter(StrMethodFormatter("{x:.1f}"))
ax2.set_xlabel("MJD", labelpad=2.5)
ax2.set_ylabel("pulsed flux (keV cm$^{-2}$ s$^{-1}$)")

# annotations
ORANGE = "#ED7D31"
BLUE = "#4472C4"
for x0, x1, y0, y1 in BOXES:
    ax1.add_patch(Rectangle((x0, y0), x1 - x0, y1 - y0, fill=False,
                            edgecolor=ORANGE, linewidth=1.4, zorder=4, clip_on=False))
for x0, x1, y in ARROWS:
    ax1.annotate("", xy=(x1, y), xytext=(x0, y),
                 arrowprops=dict(arrowstyle="<->,head_length=0.45,head_width=0.38",
                                 color=BLUE, lw=1.4, shrinkA=0, shrinkB=0,
                                 mutation_scale=10))
ax1.text(56690, 1.4748, "Wind-fed accretion", ha="center", va="baseline",
         color=BLUE, fontsize=15, family=["Lato", "DejaVu Sans"])
ax1.text(57447, 1.49156, "Transient", ha="left", va="baseline",
         color=ORANGE, fontsize=15, family=["Lato", "DejaVu Sans"])
ax1.text(57447, 1.4868, "accretion disc", ha="left", va="baseline",
         color=ORANGE, fontsize=15, family=["Lato", "DejaVu Sans"])
fig.text(0.7717, 0.0125, "GBM pulsar project", ha="left", va="top",
         color="#5B9BD5", fontsize=15, family=["Lato", "DejaVu Sans"])

fig.savefig("out.png", dpi=DPI)
